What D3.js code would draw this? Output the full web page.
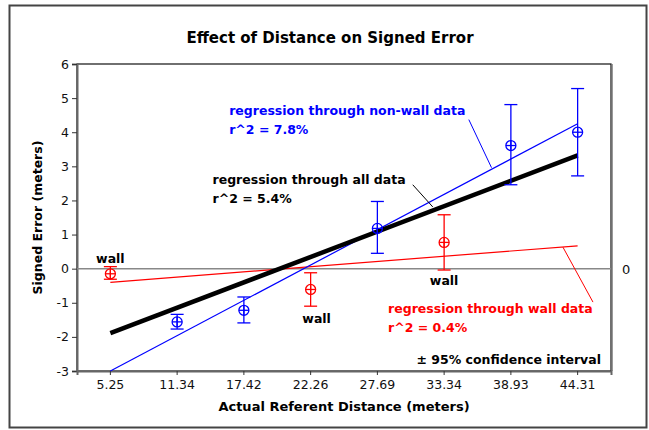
<!DOCTYPE html>
<html><head><meta charset="utf-8">
<script src="https://cdn.jsdelivr.net/npm/d3@7"></script>
<style>
html,body{margin:0;padding:0;background:#fff;}
svg{display:block;font-family:"DejaVu Sans",Verdana,sans-serif;}
</style></head>
<body><svg id="c" width="649" height="430"></svg>
<script>
// ---- data ----
const categories = ["5.25","11.34","17.42","22.26","27.69","33.34","38.93","44.31"];
const yTicks = [-3,-2,-1,0,1,2,3,4,5,6];

const nonWallCat  = ["11.34","17.42","27.69","38.93","44.31"];
const nonWallMean = [-1.56,-1.22,1.18,3.61,4.00];
const nonWallLow  = [-1.77,-1.59,0.45,2.46,2.72];
const nonWallHigh = [-1.34,-0.83,1.97,4.81,5.28];

const wallCat  = ["5.25","22.26","33.34"];
const wallMean = [-0.15,-0.61,0.77];
const wallLow  = [-0.31,-1.10,-0.04];
const wallHigh = [0.06,-0.12,1.58];

// regression fits: values at first and last category
const fitAll     = [-1.89, 3.32];
const fitNonWall = [-3.00, 4.25];
const fitWall    = [-0.40, 0.67];

// ---- layout ----
const svg = d3.select("#c");
const L = 77, R = 611, T = 64, B = 371;
const x = d3.scaleBand().domain(categories).range([L, R]);
const cx = c => x(c) + x.bandwidth()/2;
const xi = d3.scaleLinear().domain([0, categories.length-1]).range([cx(categories[0]), cx(categories[categories.length-1])]);
const y = d3.scaleLinear().domain([-3, 6]).range([B, T]);

const BLUE = "#0000ff", RED = "#ff0000";

// outer frame
svg.append("rect").attr("x",9.5).attr("y",5.5).attr("width",637).attr("height",422)
  .attr("fill","none").attr("stroke","#444").attr("stroke-width",2);

// title
svg.append("text").attr("x",330).attr("y",43).attr("text-anchor","middle")
  .attr("font-weight","bold").attr("font-size",15).text("Effect of Distance on Signed Error");

// plot frame
svg.append("rect").attr("x",L).attr("y",T).attr("width",R-L).attr("height",B-T)
  .attr("fill","none").attr("stroke","#111").attr("stroke-width",1.2);
svg.append("line").attr("x1",R+1.5).attr("x2",R+1.5).attr("y1",T).attr("y2",B)
  .attr("stroke","#999").attr("stroke-width",1);

// axes
const ya = svg.append("g").attr("transform",`translate(${L},0)`)
  .call(d3.axisLeft(y).tickValues(yTicks).tickSize(5).tickPadding(3).tickFormat(d => String(d)));
const xa = svg.append("g").attr("transform",`translate(0,${B})`)
  .call(d3.axisBottom(x).tickSize(4).tickPadding(5));
[ya, xa].forEach(g => {
  g.select(".domain").attr("stroke","#666").attr("stroke-width",2);
  g.selectAll(".tick line").attr("stroke","#333");
  g.selectAll(".tick text").attr("font-size",12.5).attr("fill","#111")
    .attr("font-family","DejaVu Sans, Verdana, sans-serif");
});

// zero reference line
svg.append("line").attr("x1",L).attr("x2",R).attr("y1",y(0)).attr("y2",y(0))
  .attr("stroke","#888").attr("stroke-width",1.5);
svg.append("text").attr("x",R+11).attr("y",y(0)+5).attr("font-size",13).attr("fill","#111").text("0");

// axis labels
svg.append("text").attr("x",(L+R)/2).attr("y",411).attr("text-anchor","middle")
  .attr("font-weight","bold").attr("font-size",13).text("Actual Referent Distance (meters)");
svg.append("text").attr("transform",`translate(42,${(T+B)/2}) rotate(-90)`).attr("text-anchor","middle")
  .attr("font-weight","bold").attr("font-size",12.5).text("Signed Error (meters)");

// regression lines
const n = categories.length-1;
function fitLine(f, color, w){
  svg.append("line").attr("x1",xi(0)).attr("y1",y(f[0])).attr("x2",xi(n)).attr("y2",y(f[1]))
    .attr("stroke",color).attr("stroke-width",w);
}
fitLine(fitWall, RED, 1.2);
fitLine(fitNonWall, BLUE, 1.2);
fitLine(fitAll, "#000", 4.5);

// points with CI
function series(cats, mean, lo, hi, color){
  const g = svg.append("g").attr("stroke",color).attr("fill","none").attr("stroke-width",1.3);
  cats.forEach((c,i) => {
    const px = cx(c);
    g.append("line").attr("x1",px).attr("x2",px).attr("y1",y(lo[i])).attr("y2",y(hi[i]));
    g.append("line").attr("x1",px-6.5).attr("x2",px+6.5).attr("y1",y(lo[i])).attr("y2",y(lo[i]));
    g.append("line").attr("x1",px-6.5).attr("x2",px+6.5).attr("y1",y(hi[i])).attr("y2",y(hi[i]));
    g.append("circle").attr("cx",px).attr("cy",y(mean[i])).attr("r",5);
    g.append("line").attr("x1",px-5).attr("x2",px+5).attr("y1",y(mean[i])).attr("y2",y(mean[i]));
    g.append("line").attr("x1",px).attr("x2",px).attr("y1",y(mean[i])-5).attr("y2",y(mean[i])+5);
  });
}
series(nonWallCat, nonWallMean, nonWallLow, nonWallHigh, BLUE);
series(wallCat, wallMean, wallLow, wallHigh, RED);

// annotations (data-space anchors: index along category axis, y value)
const wallLabels = [{c:"5.25", v:0.18, dx:0}, {c:"22.26", v:-1.58, dx:6}, {c:"33.34", v:-0.47, dx:0}];
wallLabels.forEach(d => svg.append("text").attr("x",cx(d.c)+d.dx).attr("y",y(d.v))
  .attr("text-anchor","middle").attr("font-weight","bold").attr("font-size",12.5).text("wall"));

const notes = [
  {lines:["regression through non-wall data","r^2 = 7.8%"], i:1.78, v:4.50, color:BLUE, lead:[[5.37,4.37],[5.71,2.96]]},
  {lines:["regression through all data","r^2 = 5.4%"], i:1.53, v:2.47, color:"#000", lead:[[4.53,2.46],[4.83,1.81]]},
  {lines:["regression through wall data","r^2 = 0.4%"], i:4.16, v:-1.30, color:RED, lead:[[6.78,0.63],[7.23,-0.98]]}
];
notes.forEach(nt => {
  nt.lines.forEach((s,k) => svg.append("text").attr("x",xi(nt.i)).attr("y",y(nt.v)+k*18.5)
    .attr("font-weight","bold").attr("font-size",12.5).attr("fill",nt.color).text(s));
  svg.append("line").attr("x1",xi(nt.lead[0][0])).attr("y1",y(nt.lead[0][1]))
    .attr("x2",xi(nt.lead[1][0])).attr("y2",y(nt.lead[1][1])).attr("stroke",nt.color).attr("stroke-width",1);
});

svg.append("text").attr("x",R-10).attr("y",B-7).attr("text-anchor","end")
  .attr("font-weight","bold").attr("font-size",12.5).text("± 95% confidence interval");
</script></body></html>
